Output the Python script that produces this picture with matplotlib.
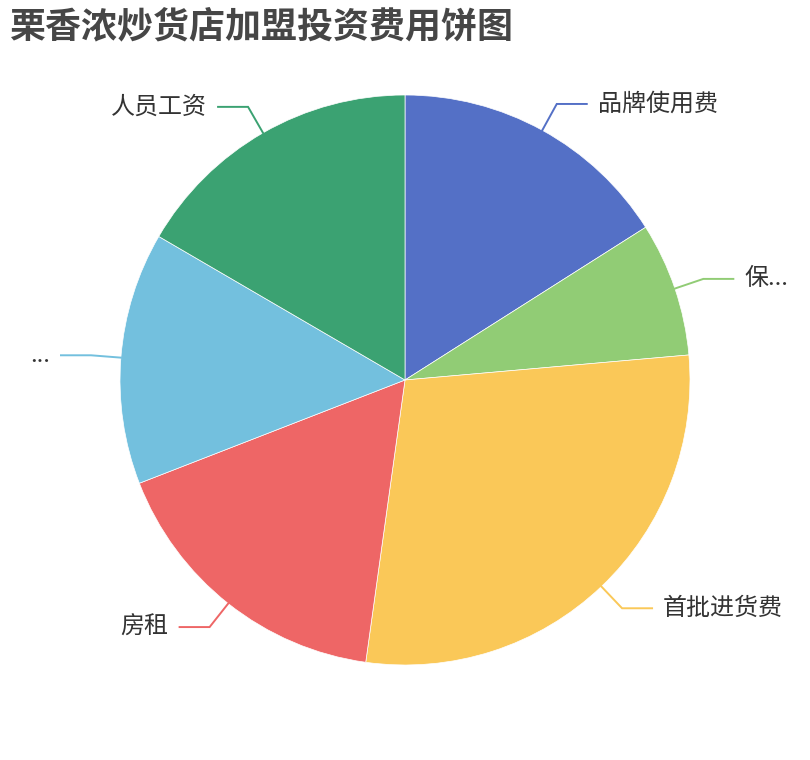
import matplotlib
matplotlib.use("Agg")
import matplotlib.pyplot as plt
import numpy as np

plt.rcParams['font.family'] = ['Noto Sans CJK SC', 'DejaVu Sans']

title = "栗香浓炒货店加盟投资费用饼图"
categories = ["品牌使用费", "保...", "首批进货费", "房租", "...", "人员工资"]
values = [16.0, 7.6, 28.6, 16.9, 14.3, 16.6]
colors = ["#5470c6", "#91cc75", "#fac858", "#ee6666", "#73c0de", "#3ba272"]

W, H = 810, 760
fig = plt.figure(figsize=(W / 100, H / 100), dpi=100)
ax = fig.add_axes([0, 0, 1, 1])

cx, cy, R = 405, H - 380, 285
wedges, _ = ax.pie(values, colors=colors, startangle=90, counterclock=False,
                   center=(cx, cy), radius=R, frame=True,
                   wedgeprops=dict(edgecolor='white', linewidth=0.5))
ax.set_xlim(0, W)
ax.set_ylim(0, H)
ax.set_aspect('equal')
ax.axis('off')

px2pt = 72 / 100
for w, lab, col in zip(wedges, categories, colors):
    mid = np.deg2rad((w.theta1 + w.theta2) / 2)
    c, s = np.cos(mid), np.sin(mid)
    p1 = (cx + R * c, cy + R * s)
    p2 = (cx + (R + 30) * c, cy + (R + 30) * s)
    d = 1 if c >= 0 else -1
    p3 = (p2[0] + 30 * d, p2[1])
    ax.plot([p1[0], p2[0], p3[0]], [p1[1], p2[1], p3[1]], color=col, lw=1.4,
            solid_joinstyle='miter')
    ax.text(p3[0] + 11 * d, p3[1], lab, ha='left' if d > 0 else 'right',
            va='center', fontsize=24 * px2pt, color='#333333')

fig.text(10 / W, 1 - 8 / H, title, ha='left', va='top', fontsize=36 * px2pt,
         fontweight='bold', color='#464646')

fig.savefig("out.png", dpi=100, facecolor='white')
